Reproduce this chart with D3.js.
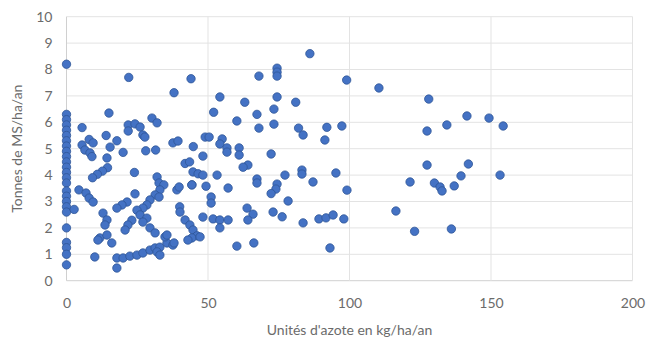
<!DOCTYPE html>
<html><head><meta charset="utf-8">
<script src="https://cdn.jsdelivr.net/npm/d3@7"></script>
<style>body{margin:0;background:#fff}svg{display:block}</style>
</head><body>
<script>
const xTicks = [0, 50, 100, 150, 200];
const yTicks = [0,1,2,3,4,5,6,7,8,9,10];
const xTitle = "Unités d'azote en kg/ha/an";
const yTitle = "Tonnes de MS/ha/an";
// nitrogen units (kg/ha/an)
const nitrogen = [
 0,0,0,0,0,0,0,0,0,0,0,0,0,0,0,0,0,0,0,0,0,0,0,0,0,
 2.7,4.4,6.9,8,9.4,5.5,5.5,6.5,8.3,9,8,9.4,14,15.4,17.8,20,15,
 14.3,14.5,12.7,10.9,9.2,24,21.8,24.2,26,21.8,27,27.7,30.2,32,28,31.5,
 22,38,44,37.6,39.4,44.8,41.9,43.5,44.7,46.5,
 32,32.7,34.4,33,31.3,29.5,28.4,27,32.7,39,39.8,44.3,40,
 24.2,21.4,19.6,17.8,24.9,26,28.4,27,23.1,21.7,20.7,12.9,14.3,13.6,
 11.8,11.1,14.3,16,29.5,31.3,40.1,41.9,43.6,44.7,46.1,44.3,42.9,
 17.8,20,22.4,24.9,27,29.5,31.3,33,35.5,37.6,17.8,10,32,33,34.8,35.5,38,
 47.2,48.2,49,50.4,55,54.2,56.7,61,61,56.7,
 52,54.2,60.2,63,67.3,68,73.3,73.3,74.4,81,82,83.6,92,97.3,91.3,
 68,74.4,74.4,74.4,86,99,110.4,
 53.2,48.2,49.3,57.1,44.3,51.1,51.1,64.1,62.4,72.3,
 67.3,67.3,74.4,74,72.3,77.2,78.3,83.2,83.2,87.1,95.2,99.1,
 63.8,65.9,64.1,73,76.2,48.2,51.8,54.2,57.1,54.2,
 83.6,89.2,91.7,94.2,98,93.1,60.2,66.2,
 116.4,123,136,121.4,130,132,132.7,137,139.4,127.4,142,153.2,
 128,127.4,134.4,141.5,149.3,154.3
];
// dry matter yield (t MS/ha/an)
const yieldMS = [
 8.2,6.3,6.1,5.9,5.7,5.5,5.3,5.1,4.9,4.7,4.5,4.3,4.1,3.9,3.7,3.4,3.2,3.0,2.8,2.6,2.0,1.45,1.25,1.0,0.6,
 2.7,3.44,3.32,3.13,2.98,5.8,5.14,4.95,4.84,4.7,5.35,5.22,5.5,5.06,5.3,4.86,6.35,
 4.65,4.28,4.15,4.03,3.9,4.1,5.9,5.94,5.82,5.67,5.52,5.44,6.16,5.98,4.92,4.95,
 7.7,7.12,7.65,5.22,5.29,5.08,4.44,4.5,4.12,4.05,
 3.93,3.7,3.63,3.44,3.25,3.06,2.87,2.75,3.17,3.44,3.55,3.63,2.8,
 3.29,2.98,2.87,2.75,2.67,2.49,2.37,2.22,2.29,2.11,1.92,2.56,2.3,2.11,
 1.62,1.54,1.73,1.43,2.0,1.81,2.6,2.3,2.11,1.92,1.7,1.62,1.54,
 0.86,0.86,0.93,0.97,1.05,1.16,1.24,1.27,1.43,1.35,0.48,0.9,1.09,0.97,1.66,1.73,1.43,
 1.66,4.72,5.44,5.44,5.37,5.18,5.03,5.03,4.76,4.87,
 6.38,6.96,6.05,6.76,6.3,5.78,6.5,5.93,6.96,6.76,5.78,5.52,5.81,5.86,5.33,
 7.75,8.05,7.9,7.75,8.6,7.6,7.3,
 4.0,4.0,3.58,3.51,3.63,3.17,2.94,4.38,4.3,4.8,
 3.85,3.7,3.66,3.47,3.3,4.0,3.02,4.19,4.04,3.74,4.08,3.43,
 2.75,2.52,2.3,2.6,2.42,2.41,2.34,2.3,2.3,2.0,
 2.19,2.34,2.38,2.49,2.34,1.24,1.31,1.43,
 2.64,1.87,1.96,3.74,3.7,3.55,3.4,3.59,3.97,4.38,4.42,4.0,
 6.88,5.67,5.9,6.24,6.16,5.86
];
const W = 648, H = 340;
const m = {left: 66.5, right: 648 - 632.5, top: 16.7, bottom: 340 - 280.7};
const svg = d3.select("body").append("svg").attr("width", W).attr("height", H);
const x = d3.scaleLinear().domain([0, 200]).range([m.left, W - m.right]);
const y = d3.scaleLinear().domain([0, 10]).range([H - m.bottom, m.top]);
const font = "Lato, 'Open Sans', sans-serif";
const grid = svg.append("g");
grid.selectAll("line.h").data(yTicks).join("line")
  .attr("x1", x(0)).attr("x2", x(200)).attr("y1", d => y(d)).attr("y2", d => y(d))
  .attr("stroke", d => d === 0 ? "#d0d0d0" : "#e3e3e3").attr("stroke-width", 1);
grid.selectAll("line.v").data(xTicks).join("line")
  .attr("y1", y(0)).attr("y2", y(10)).attr("x1", d => x(d)).attr("x2", d => x(d))
  .attr("stroke", d => d === 0 ? "#d0d0d0" : "#e3e3e3").attr("stroke-width", 1);
const yAxis = svg.append("g").attr("transform", `translate(${x(0)},0)`)
  .call(d3.axisLeft(y).tickValues(yTicks).tickSize(0).tickPadding(14));
const xAxis = svg.append("g").attr("transform", `translate(0,${y(0)})`)
  .call(d3.axisBottom(x).tickValues(xTicks).tickSize(0).tickPadding(17));
[xAxis, yAxis].forEach(a => {
  a.select(".domain").remove();
  a.selectAll("text").attr("fill", "#6b6b6b").style("font-family", font).style("font-size", "14px");
});
const pts = nitrogen.map((v, i) => [v, yieldMS[i]]);
svg.append("g").selectAll("circle").data(pts).join("circle")
  .attr("cx", d => x(d[0])).attr("cy", d => y(d[1])).attr("r", 4.2)
  .attr("fill", "#4472c4").attr("stroke", "#2f5597").attr("stroke-width", 0.8);
svg.append("text").attr("x", (x(0) + x(200)) / 2).attr("y", 335).attr("text-anchor", "middle")
  .attr("fill", "#6b6b6b").style("font-family", font).style("font-size", "14px").text(xTitle);
svg.append("text").attr("transform", `translate(22,${(y(0) + y(10)) / 2}) rotate(-90)`)
  .attr("text-anchor", "middle").attr("fill", "#6b6b6b")
  .style("font-family", font).style("font-size", "14px").text(yTitle);
</script>
</body></html>
